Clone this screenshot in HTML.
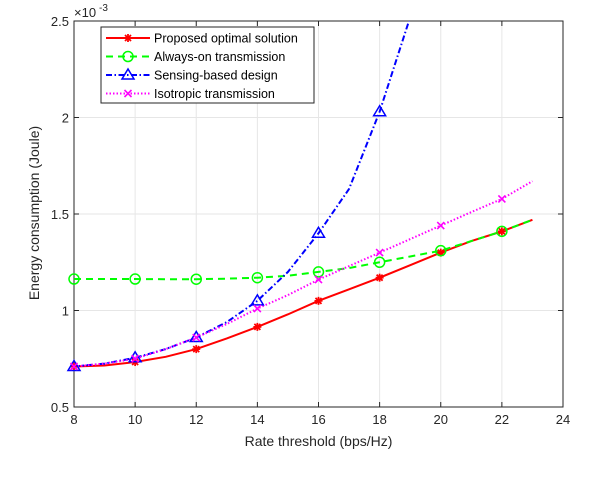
<!DOCTYPE html>
<html><head><meta charset="utf-8"><style>
html,body{margin:0;padding:0;background:#fff;}
svg{display:block;font-family:"Liberation Sans",Arial,sans-serif;}
</style></head><body>
<svg id="chart" width="604" height="488" viewBox="0 0 604 488">
<g id="grid"></g>
<g id="axes"></g>
<defs><clipPath id="clip"><rect x="74" y="21" width="489" height="386"/></clipPath></defs>
<g id="series" clip-path="url(#clip)"></g>
<g id="markers"></g>
<g id="legend"></g>
</svg>
<script>
const xVals=[8,9,10,11,12,13,14,15,16,17,18,19,20,21,22,23];
const proposed=[0.71,0.715,0.733,0.76,0.80,0.855,0.915,0.98,1.05,1.11,1.17,1.235,1.30,1.36,1.41,1.47];
const alwaysOn=[1.163,1.163,1.163,1.162,1.162,1.165,1.17,1.18,1.20,1.22,1.25,1.28,1.31,1.36,1.41,1.47];
const sensing=[0.71,0.725,0.755,0.80,0.86,0.94,1.05,1.20,1.40,1.63,2.03,2.52];
const isotropic=[0.71,0.725,0.75,0.80,0.86,0.93,1.01,1.08,1.16,1.23,1.30,1.37,1.44,1.51,1.578,1.67];
const xTicks=[8,10,12,14,16,18,20,22,24];
const yTicks=[0.5,1,1.5,2,2.5];
const yTickLabels=["0.5","1","1.5","2","2.5"];
const ns="http://www.w3.org/2000/svg";
const L=74,R=563,T=21,B=407;
const xs=v=>L+(v-8)/16*(R-L);
const ys=v=>B-(v-0.5)/2*(B-T);
function mk(tag,attrs,parent,text){const e=document.createElementNS(ns,tag);for(const k in attrs)e.setAttribute(k,attrs[k]);if(text!==undefined)e.textContent=text;parent.appendChild(e);return e;}
const grid=document.getElementById('grid'),axes=document.getElementById('axes'),series=document.getElementById('series'),markers=document.getElementById('markers'),legend=document.getElementById('legend');
mk('rect',{x:L,y:T,width:R-L,height:B-T,fill:'#fff'},grid);
xTicks.forEach(t=>{const x=xs(t);
const g=mk('line',{x1:x,x2:x,y1:T,y2:B,stroke:'#e6e6e6','stroke-width':1},grid);

mk('line',{x1:x,x2:x,y1:B,y2:B-5,stroke:'#262626'},axes);mk('line',{x1:x,x2:x,y1:T,y2:T+5,stroke:'#262626'},axes);
const lb=mk('text',{x:x,y:B+17,'text-anchor':'middle','font-size':13,fill:'#262626'},axes,String(t));
});
yTicks.forEach((t,i)=>{const y=ys(t);
const g=mk('line',{x1:L,x2:R,y1:y,y2:y,stroke:'#e6e6e6','stroke-width':1},grid);

mk('line',{x1:L,x2:L+5,y1:y,y2:y,stroke:'#262626'},axes);mk('line',{x1:R,x2:R-5,y1:y,y2:y,stroke:'#262626'},axes);
const lb=mk('text',{x:L-5,y:y+5,'text-anchor':'end','font-size':13,fill:'#262626'},axes,yTickLabels[i]);
});
mk('rect',{x:L,y:T,width:R-L,height:B-T,fill:'none',stroke:'#262626','stroke-width':1},axes);
const xt=mk('text',{x:(L+R)/2,y:446,'text-anchor':'middle','font-size':14,fill:'#262626'},axes,'Rate threshold (bps/Hz)');

const yt=mk('text',{x:0,y:0,'text-anchor':'middle','font-size':14,fill:'#262626',transform:'translate(39,213) rotate(-90)'},axes,'Energy consumption (Joule)');

const ex=mk('text',{x:L,y:T-4,'font-size':13,fill:'#262626'},axes,'×10');

mk('text',{x:L+25,y:T-10,'font-size':10,fill:'#262626'},axes,'-3');
function marker(type,x,y,color,parent){
if(type==='star'){[[0,-4,0,4],[-4,0,4,0],[-3,-3,3,3],[-3,3,3,-3]].forEach(d=>mk('line',{x1:x+d[0],y1:y+d[1],x2:x+d[2],y2:y+d[3],stroke:color,'stroke-width':1.8},parent));}
else if(type==='circle'){mk('circle',{cx:x,cy:y,r:5,fill:'none',stroke:color,'stroke-width':1.5},parent);}
else if(type==='tri'){mk('polygon',{points:`${x},${y-6} ${x-6},${y+4} ${x+6},${y+4}`,fill:'none',stroke:color,'stroke-width':1.5},parent);}
else if(type==='x'){[[-3.5,-3.5,3.5,3.5],[-3.5,3.5,3.5,-3.5]].forEach(d=>mk('line',{x1:x+d[0],y1:y+d[1],x2:x+d[2],y2:y+d[3],stroke:color,'stroke-width':1.6},parent));}
}
const defs=[
{name:'proposed',data:proposed,color:'#ff0000',dash:'',w:2,m:'star',label:'Proposed optimal solution'},
{name:'always-on',data:alwaysOn,color:'#00ff00',dash:'7,5',w:2,m:'circle',label:'Always-on transmission'},
{name:'sensing',data:sensing,color:'#0000ff',dash:'6,2.5,1.5,2.5',w:2,m:'tri',label:'Sensing-based design'},
{name:'isotropic',data:isotropic,color:'#ff00ff',dash:'1.5,2',w:2,m:'x',label:'Isotropic transmission'}];
defs.forEach(s=>{
const pts=s.data.map((v,i)=>xs(xVals[i])+','+ys(v)).join(' ');
const pl=mk('polyline',{points:pts,fill:'none',stroke:s.color,'stroke-width':s.w,'stroke-dasharray':s.dash},series);

const g=mk('g',{},markers);

s.data.forEach((v,i)=>{if(xVals[i]%2===0&&v<=2.5)marker(s.m,xs(xVals[i]),ys(v),s.color,g);});
});
mk('rect',{x:101,y:27,width:213,height:76,fill:'#fff',stroke:'#262626','stroke-width':1},legend);
defs.forEach((s,i)=>{const y=38+i*18.5;
const g=mk('g',{},legend);

mk('line',{x1:106,x2:150,y1:y,y2:y,stroke:s.color,'stroke-width':s.w,'stroke-dasharray':s.dash},g);
marker(s.m,128,y,s.color,g);
mk('text',{x:154,y:y+4.5,'font-size':12.5,fill:'#000'},g,s.label);});
</script>
</body></html>
